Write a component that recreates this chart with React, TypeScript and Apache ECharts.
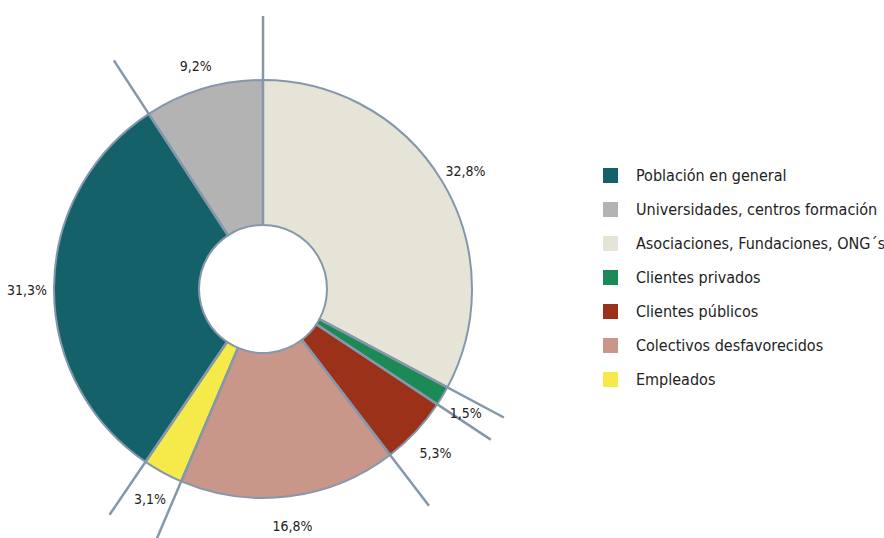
import React, { useEffect, useRef } from "react";
import * as echarts from "echarts";

// Slices in clockwise order starting at 12 o'clock
const sliceNames = [
  "Asociaciones, Fundaciones, ONG´s",
  "Clientes privados",
  "Clientes públicos",
  "Colectivos desfavorecidos",
  "Empleados",
  "Población en general",
  "Universidades, centros formación",
];
const sliceValues = [32.8, 1.5, 5.3, 16.8, 3.1, 31.3, 9.2];
const sliceColors = ["#e5e4d6", "#1c8a57", "#9b3119", "#c9968a", "#f6ea4a", "#15616a", "#b3b3b3"];
const legendOrder = [
  "Población en general",
  "Universidades, centros formación",
  "Asociaciones, Fundaciones, ONG´s",
  "Clientes privados",
  "Clientes públicos",
  "Colectivos desfavorecidos",
  "Empleados",
];

const FONT = "'DejaVu Sans Condensed', 'Liberation Sans', sans-serif";
const CX = 263;
const CY = 289;
const R_IN = 64;
const R_OUT = 209;
const R_LINE = 273;
const R_LABEL = 236;
const LINE_COLOR = "#8597ab";

export default function App() {
  const ref = useRef<HTMLDivElement>(null);
  useEffect(() => {
    document.body.style.margin = "0";
    const chart = echarts.init(ref.current!, null, { renderer: "svg" });
    const total = sliceValues.reduce((a, b) => a + b, 0);
    const starts: number[] = [];
    const mids: number[] = [];
    let acc = 0;
    sliceValues.forEach((v) => {
      starts.push((acc / total) * 100);
      mids.push(((acc + v / 2) / total) * 100);
      acc += v;
    });
    const labelTexts = sliceValues.map((v) => v.toFixed(1).replace(".", ",") + "%");

    chart.setOption({
      animation: false,
      backgroundColor: "#ffffff",
      legend: {
        orient: "vertical",
        left: 598,
        top: 162,
        itemWidth: 15,
        itemHeight: 15,
        itemGap: 17,
        selectedMode: false,
        data: legendOrder,
        icon: "rect",
        itemStyle: { borderWidth: 0 },
        textStyle: { fontFamily: FONT, fontSize: 16, color: "#222", lineHeight: 17, padding: [0, 0, 0, 13] },
      },
      polar: { center: [CX, CY], radius: [0, R_LINE] },
      angleAxis: {
        type: "value",
        min: 0,
        max: 100,
        startAngle: 90,
        clockwise: true,
        show: false,
        axisLine: { show: false },
        axisLabel: { show: false },
        splitLine: { show: false },
        axisTick: { show: false },
      },
      radiusAxis: {
        type: "value",
        min: 0,
        max: R_LINE,
        show: false,
        axisLine: { show: false },
        axisLabel: { show: false },
        splitLine: { show: false },
        axisTick: { show: false },
      },
      series: [
        {
          type: "pie",
          center: [CX, CY],
          radius: [R_IN, R_OUT],
          startAngle: 90,
          clockwise: true,
          silent: true,
          label: { show: false },
          labelLine: { show: false },
          itemStyle: { borderColor: LINE_COLOR, borderWidth: 2 },
          data: sliceNames.map((n, i) => ({
            name: n,
            value: sliceValues[i],
            itemStyle: { color: sliceColors[i] },
          })),
          z: 1,
        },
        {
          type: "custom",
          coordinateSystem: "polar",
          silent: true,
          z: 5,
          data: starts.map((s) => [R_LINE, s]),
          renderItem: (params: any, api: any) => {
            const a = api.value(1);
            const p1 = api.coord([R_IN, a]);
            const p2 = api.coord([api.value(0), a]);
            return {
              type: "line",
              shape: { x1: p1[0], y1: p1[1], x2: p2[0], y2: p2[1] },
              style: { stroke: LINE_COLOR, lineWidth: 2.5 },
            };
          },
        },
        {
          type: "custom",
          coordinateSystem: "polar",
          silent: true,
          z: 6,
          data: mids.map((m) => [R_LABEL, m]),
          renderItem: (params: any, api: any) => {
            const p = api.coord([api.value(0), api.value(1)]);
            return {
              type: "text",
              x: p[0],
              y: p[1] + 3,
              style: {
                text: labelTexts[params.dataIndex],
                fontFamily: FONT,
                fontSize: 14,
                fill: "#222",
                align: "center",
                verticalAlign: "middle",
              },
            };
          },
        },
      ],
    });
    return () => chart.dispose();
  }, []);
  return <div ref={ref} style={{ width: 884, height: 538 }} />;
}
